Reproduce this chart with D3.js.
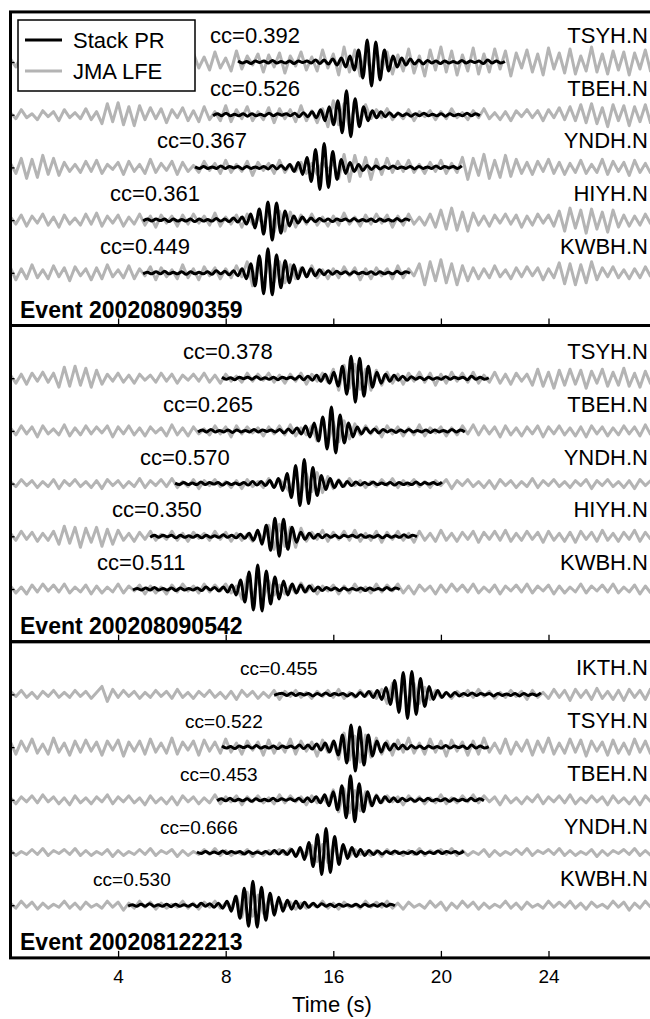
<!DOCTYPE html>
<html>
<head>
<meta charset="utf-8">
<title>Stack PR vs JMA LFE</title>
<style>
    html, body {margin: 0px; padding: 0px; background: #ffffff; overflow: hidden;}
    text {font-family: "Liberation Sans", Arial, Helvetica, sans-serif;}
</style>
</head>
<body>
<div id="chart"></div>
<script src="https://cdn.jsdelivr.net/npm/d3@7"></script>
<script>
// ---- data ----
var events = ["200208090359", "200208090542", "200208122213"];
var stations = [
    ["TSYH.N", "TBEH.N", "YNDH.N", "HIYH.N", "KWBH.N"],
    ["TSYH.N", "TBEH.N", "YNDH.N", "HIYH.N", "KWBH.N"],
    ["IKTH.N", "TSYH.N", "TBEH.N", "YNDH.N", "KWBH.N"]
];
var ccValues = [
    [0.392, 0.526, 0.367, 0.361, 0.449],
    [0.378, 0.265, 0.570, 0.350, 0.511],
    [0.455, 0.522, 0.453, 0.666, 0.530]
];
// start time (s) of the stacked PR window on each trace
var stackStart = [
    [8.46, 7.53, 6.86, 4.93, 4.93],
    [7.86, 6.97, 6.12, 5.19, 4.55],
    [9.80, 7.86, 7.68, 6.93, 4.37]
];
// time (s) where each cc label begins
var ccLabelT = [
    [7.42, 7.42, 5.45, 3.70, 3.33],
    [6.41, 5.67, 4.81, 3.77, 3.22],
    [8.53, 6.49, 6.30, 5.56, 3.07]
];
var tickVals = [4, 8, 12, 16, 20];
var tickLabels = ["4", "8", "16", "20", "24"];

// stacked PR templates, one per station, sampled every stackDt s
var stackDt = 0.16;
var stackPR = {
    "TSYH.N": [1,-1,0.5,-1.5,1,-0.5,1,-1,1.5,-1,0.5,-1,1,-1.5,1,-0.5,1,-1,2,-1.5,2,
        -2,3,-3,4,-5,6,-8, 12,-16,22,-24,20,-18,12,-9,6,
        -5,4,-3,3,-2,2,-2,1.5, -1,1,-1.5,1,-1,0.5,-1,1.5,-1,1,-0.5,1,-1.5,2,-1,1,-1,0.5],
    "TBEH.N": [-1,1,-1,1.5,-1,0.5,-1,1,-1.5,1,-1,0.5,-1,1.5,-1,1,-0.5,1,-1,1.5,-2,2,-2,3,
        -3,5,-6,8,-10,14,-18, 24,-22,16,-12,8,-6,4,
        -3,3,-2,2,-2,1.5,-1,1,-1.5,1,-1,1.5,-1,0.5,-1,1,-1.5,1,-1,0.5,-1,1.5,-1,1,-1],
    "YNDH.N": [0.5,-1,1,-1,0.5,-1,1.5,-1,1,-0.5,1,-1.5,1,-1,0.5,-1,1,-1.5,2,-1.5,2,-2,3,
        -4,5,-7,10,-14,18, -22,24,-20,16,-12,8,-6,
        5,-4,3,-3,2,-2,1.5,-1.5,1,-1,1.5,-1,0.5,-1,1,-1.5,1,-1,0.5,-1,1.5,-1,1,-0.5,1,-1,1.5],
    "HIYH.N": [-1,1,-1,1,-0.5,1,-1.5,1,-1,0.5,-1,1,-1.5,1,-1,0.5,-1,1.5,-1,1,-1.5,2,-2,3,
        -4,6,-8,11,-14,18, -20,17,-13,9,-6,4,
        -3,3,-2,2,-1.5,1.5,-1,1,-1.5,1,-0.5,1,-1,1.5,-1,0.5,-1,1,-1.5,1,-1,0.5,-1,1.5,-1,1,-0.5],
    "KWBH.N": [-1,0.5,-1,1,-1,1.5,-1,0.5,-1,1,-1.5,1,-1,0.5,-1,1,-1.5,2,-1,1.5,-2,2,-3,4,
        -6,9,-13,17,-21, 24,-22,18,-15,12,-10,8,-6,5,
        -4,4,-3,3,-2,2,-1.5,1.5,-1,1,-1.5,1,-1,0.5,-1,1,-1.5,1,-1,0.5,-1,1.5,-1,1,-0.5],
    "IKTH.N": [-1,0.5,1,-1,1.5,-1,1,-0.5,1,-1.5,1,-1,1.5,-1,1,-0.5,1,-1.5,1,-2,2,-2,3,-3,4,
        -5,7,-10,14,-18,22, -24,23,-20,16,-12,8,-5,4,
        -3,2,-2,2,-1.5,1,-1,1.5,-1,1,-0.5,1,-1.5,1,-1,0.5,-1,1,-1.5,1,-1,0.5,-1,1.5]
};

// JMA LFE waveforms, sampled every lfeDt s from t = 0
var lfeDt = 0.2;
var lfe0359 = [
    [3,-5,6,-2,4,-7,5,-3,2,-6,8,-4,3,-5,7,-6,2,-3,5,-8,6,-4,7,-5, 12,-9,14,-11,8,-13,15,-7,10,-12,9,-6,
     5,-8,10,-6,4,-9,11,-7,6,-3,8,-10,7,-5,9,-11,6,-4,10,-8,5,-9,12,-6,8, -13,15,-10,12,-14,9,-11,13,-8,10,-12,7,
     -9,13,-11,6,-14,12,-8,15,-10,11,-13,7,-9,14,-12,8,-10,13,-7,11,-14,9,-6,
     12,-10,8,-13,14,-7,9,-11,13,-12,6,-9,15,-10,8,-12,11,-8,10,-13,9,-7,12,-10],
    [2,-4,5,-3,1,-5,4,-2,3,-6,5,-3,2,-4,6,-5,3, -9,11,-7,12,-10,8,-11,9,
     -5,7,-4,6,-8,5,-3,7,-6,4,-7,8,-5,3,-6,9,-7,5,-4,8,-6,3,-5,7,-8,6,-4,5,-7,9,-6,4,-8,6,
     -12,14,-10,11,-13,9,-8,10,
     -4,5,-3,6,-5,2,-4,5,-6,3,-2,4,-5,3,-4,6,-3,2,-5,4,-3,6,-4,2,-5,3,-6,4,-2,5,-3,4,-6,5,-3,7,-5,8,-6,
     10,-8,11,-9,7,-12,10,-6,9,-11,8,-7,10,-9],
    [4,-6,9,-11,8,-10,12,-7,9,-8,5,-4,
     3,-5,6,-4,7,-6,3,-2,5,-7,6,-4,3,-6,8,-5,4,-3,6,-7,5,-4,2,-5,6,-3,4,-6,7,-5,3,-4,6,-8,5,-3,4,-6,7,-5,3,-4,5,-6,4,-7,6,-3,5,
     -11,13,-14,12,-9,10,-12,8,-7,9,
     -5,6,-4,7,-5,3,-6,5,-4,7,-6,4,-5,
     10,-12,9,-8,13,-11,7,-10,12,-9,8,-6,
     5,-7,6,-4,8,-6,5,-7,4,-5,7,-6,3,-5,8,-7,6,-4,5,-8,7,-5,4,-6],
    [3,-4,5,-6,4,-3,6,-5,3,-7,5,-4,2,-5,6,-4,7,-6,4,-3,5,-6,3,-4,6,-5,4,-7,5,-3,4,-6,5,-4,6,-3,4,-5,7,-6,3,-4,5,-7,6,-4,3,-5,
     10,-12,9,-11,8,-7,
     5,-4,6,-5,3,-6,4,-5,7,-4,3,-6,5,-4,6,-3,5,-7,4,-5,6,-4,3,-5,6,-7,
     10,-9,12,-10,8,-11,7,
     -5,4,-6,5,-3,6,-4,5,-7,4,-5,6,-3,5,-6,
     9,-11,12,-8,10,-13,11,-9,8,-12,10,-7,
     5,-6,4,-5,6,-4],
    [5,-7,4,-6,8,-5,3,-6,7,-4,5,-8,6,-3,4,-7,5,-6,8,-4,3,-5,7,-6,4,-3,6,-7,5,-4,3,-6,8,-5,4,-7,6,-3,5,-6,4,-5,7,-4,
     11,-13,10,-12,14,-9,11,-10,8,
     -6,5,-4,7,-5,3,-6,4,-5,6,-3,5,-7,4,-6,5,-3,4,-6,7,-5,4,-3,
     9,-12,11,-8,13,-10,9,-12,7,-8,
     5,-6,4,-5,7,-4,3,-6,5,-4,6,-3,5,-7,4,-5,
     10,-11,9,-12,8,-10,11,-7,
     5,-4,6,-5,3,-6,4,-5,6,-4]
];
var lfe0542 = [
    [3,-5,4,-6,5,-3,6,-4,5, -9,11,-8,12,-7,10,-9,8,-6,
     4,-3,5,-4,3,-5,4,-2,3,-4,5,-3,4,-5,3,-2,4,-3,5,-4,3,-5,4,-3,2,-4,5,-3,4,-2,5,-4,3,-5,4,-3,5,-6,4,-3,5,-4,
     9,-12,13,-10,14,-11,9,-12,8,-7,6,
     -5,4,-6,5,-3,6,-4,5,-7,4,-5,6,-3,5,-4,6,-5,3,-4,6,-5,4,-6,5,-3,4,
     -7,9,-8,6,-10,8,-7,9,-6,8,-10,7,-5,9,-8,6,-7,10,-8,5,-9,7,-6],
    [3,-4,5,-3,4,-6,5,-3,2,-4,6,-5,3,-4,5,-3,4,-2,5,-6,4,-3,5,-4,3,-5,4,-2,3,-5,6,-4,3,-5,4,-3,2,-4,5,-3,4,-6,5,-3,4,-2,3,-5,4,-3,5,-4,6,-5,3,-4,5,
     -10,12,-13,9,-11,10,-8,7,
     -4,5,-3,4,-6,5,-3,4,-5,3,-4,6,-5,3,-2,4,-5,3,-4,5,-3,6,-4,5,-3,4,-6,5,-4,3,-5,4,-3,5,-6,4,-3,5,-4,3,-5,4,-6,5,-3,4,-5,3,-4,5,-3,4,-5,6,-4],
    [2,-3,4,-2,3,-4,2,-3,4,-5,3,-2,4,-3,2,-4,3,-5,4,-2,3,-4,2,-3,5,-4,3,-2,4,-3,5,-4,2,-3,4,-5,3,-2,4,-3,2,-4,3,-5,4,-3,2,-4,5,-3,4,-2,
     -9,11,-12,10,-8,11,-9,7,-5,
     4,-3,5,-2,3,-4,2,-3,4,-2,5,-4,3,-2,4,-3,2,-4,3,-2,4,-5,3,-2,4,-3,2,-4,3,-5,4,-2,3,-4,2,-3,5,-4,3,-2,4,-3,2,-4,3,-2,4,-5,3,-2,4,-3,2,-4,3,-5,4,-2,3],
    [3,-4,5,-3,4,-5,3,-4,5, -8,10,-7,9,-11,8,-6,9,-10,7,-8,6,
     -4,3,-5,4,-3,5,-4,2,-3,5,-4,3,-5,4,-2,3,-4,5,-3,4,-5,3,-4,2,-5,4,-3,
     11,-13,12,-10,9,-11,8,
     -5,4,-3,6,-5,4,-3,5,-4,6,-5,3,-4,5,-6,4,-3,5,-4,3,-6,5,-4,3,-5,6,-4,3,-5,4,-3,5,-6,4,-3,5,-4,6,-5,3,-4,5,-3,4,-6,5,-4,3,-5,4,-6,5,-3,4,-5,6,-4,3,-5,4,-3,6,-5,4,-3],
    [3,-4,2,-5,4,-3,5,-2,4,-3,5,-4,2,-3,4,-5,3,-4,2,-3,5,-4,3,-2,4,-5,3,-4,2,-5,4,-3,5,-2,3,-4,5,-3,4,-2,5,-4,3,
     -10,12,-11,13,-9,8,-6,
     4,-5,3,-4,6,-3,4,-5,3,-2,4,-5,3,-4,5,-3,2,-4,5,-3,4,-2,5,-4,3,-5,4,-2,3,-5,4,-3,5,-2,4,-3,5,-4,2,-3,4,-5,3,-2,4,-3,5,-4,3,-2,4,-5,3,-4,2,-3,5,-4,3,-2,4,-3,5,-4,2,-3,4,-5,3,-4]
];
var lfe2213 = [
    [3,-2,4,-3,2,-4,3,-2,4,-3,2,-3,4,-2,3,-4,2,8,-7,5,-3,4,-2,3,-4,2,-3,4,-2,3,-4,5,-3,2,-4,3,-2,4,-3,2,-4,3,-5,4,-2,3,-4,2,-3,4,-5,3,-2,4,-3,2,-4,3,-2,4,-3,5,-4,2,-3,4,-2,3,-4,5,
     -9,11,-12,10,-13,11,-9,7,-5,
     4,-3,2,-4,3,-2,4,-3,5,-2,3,-4,2,-3,4,-2,3,-5,4,-3,2,-4,5,-3,4,-6,5,-3,4,-5,6,-4,3,-5,4,-6,5,-3,4,-5,6],
    [5,-7,6,-4,8,-6,3,-7,9,-5,4,-8,6,-5,7,-4,5,-8,6,-3,7,-9,5,-4,6,-7,8,-5,4,-6,9,-7,5,-3,6,-8,7,-4,5,-6,8,-5,4,-7,6,-3,5,-8,7,-6,4,-5,8,-7,6,-4,5,-9,7,-5,6,
     -12,14,-13,11,-15,12,-10,9,-7,
     6,-8,7,-5,9,-6,4,-7,8,-5,6,-9,7,-4,5,-8,6,-7,9,-5,4,-6,8,-7,5,-4,7,-8,6,-5,9,-7,4,-6,8,-5,7,-9,6,-4,5,-8,7,-6,4,-7,8,-5,6,-7],
    [2,-4,3,-2,4,-3,5,-2,3,-4,2,-5,4,-3,2,-4,3,-2,5,-4,3,-2,4,-3,2,-5,4,-3,2,-4,3,-5,4,-2,3,-4,2,-3,5,-4,3,-2,4,-5,3,-2,4,-3,2,-4,5,-3,4,-2,3,-5,4,-3,2,-4,
     10,-12,11,-13,9,-11,8,-6,5,
     -3,4,-2,3,-5,4,-2,3,-4,2,-3,5,-4,2,-3,4,-2,5,-3,4,-2,3,-5,4,-3,2,-4,3,-2,5,-4,3,-2,4,-3,5,-4,2,-3,4,-2,3,-5,4,-3,2,-4,3,-5,4,-2],
    [2,-3,1,-2,3,-2,4,-3,2,-1,3,-2,4,-3,2,-3,1,-2,3,-4,2,-3,1,-2,3,-2,4,-3,2,-1,3,-4,2,-3,1,-2,3,-2,4,-3,2,-3,1,-2,3,-4,2,-3,2,-1,3,-2,4,-3,2,-3,
     7,-9,8,-10,7,-6,5,-4,
     3,-2,1,-3,2,-4,3,-2,1,-3,2,-2,4,-3,2,-1,3,-2,4,-3,2,-3,1,-2,3,-4,2,-3,1,-2,3,-2,4,-3,2,-1,3,-2,4,-3,2,-3,1,-2,3,-4,2,-3,2,-1,3,-2,4,-3,2,-3],
    [2,-3,4,-2,3,-4,2,-3,1,-2,4,-3,2,-4,3,-2,1,-3,4,-2,3,-5,2,-3,4,-2,3,-4,2,-3,1,-2,4,-3,2,-4,3,-2,4,-3,2,-3,
     9,-12,13,-11,10,-8,6,
     -3,4,-2,3,-4,2,-3,1,-2,4,-3,2,-4,3,-2,1,-3,4,-2,3,-2,4,-3,2,-4,3,-2,1,-3,4,-2,3,-5,2,-3,4,-2,3,-4,2,-3,1,-2,4,-3,2,-4,3,-2,1,-3,4,-2,3,-2,4,-3,2,-4,3,-2,1,-3,4,-2,3,-5,2,-3,4,-2]
];
var lfe = [lfe0359, lfe0542, lfe2213];

// ---- chart ----
var width = 650, height = 1019;
var grey = "#b4b4b4";

var x = d3.scaleLinear().domain([0, 24]).range([10.5, 656.1]);
// one row per trace, an empty row between events
var row = d3.scaleLinear().domain([0, 16]).range([62, 905.2]);
var amp = d3.scaleLinear().domain([-25, 25]).range([25, -25]);
var bounds = [row(-0.95), row(5), row(11), row(17)];

var svg = d3.select("#chart").append("svg")
    .attr("width", width)
    .attr("height", height);

svg.append("rect").attr("width", width).attr("height", height).attr("fill", "#ffffff");

svg.append("defs").append("clipPath").attr("id", "plot")
  .append("rect")
    .attr("x", x(0) + 1.5)
    .attr("y", bounds[0])
    .attr("width", 700)
    .attr("height", bounds[3] - bounds[0]);

var grayLine = d3.line();
var stackLine = d3.line().curve(d3.curveCatmullRom.alpha(0.5));

var traces = svg.append("g").attr("clip-path", "url(#plot)");
var grayG = traces.append("g");
var blackG = traces.append("g");
var labels = svg.append("g");

events.forEach(function(ev, p) {
    stations[p].forEach(function(st, i) {
        var base = row(p * 6 + i);

        grayG.append("path")
            .attr("d", grayLine(lfe[p][i].map(function(v, k) { return [x(k * lfeDt), base + amp(v)]; })))
            .attr("fill", "none")
            .attr("stroke", grey)
            .attr("stroke-width", 3)
            .attr("stroke-linejoin", "round");

        blackG.append("path")
            .attr("d", stackLine(stackPR[st].map(function(v, k) { return [x(stackStart[p][i] + k * stackDt), base + amp(v)]; })))
            .attr("fill", "none")
            .attr("stroke", "#000")
            .attr("stroke-width", 3)
            .attr("stroke-linejoin", "round");

        labels.append("text")
            .attr("x", 648)
            .attr("y", base - 19)
            .attr("text-anchor", "end")
            .style("font-size", "22px")
            .text(st);

        labels.append("text")
            .attr("x", x(ccLabelT[p][i]))
            .attr("y", base - 19)
            .style("font-size", p === 2 ? "19px" : "22px")
            .text("cc=" + ccValues[p][i].toFixed(3));
    });

    labels.append("text")
        .attr("x", 20)
        .attr("y", bounds[p + 1] - 8)
        .style("font-size", "23px")
        .style("font-weight", "bold")
        .text("Event " + ev);

    // ticks along the bottom of each panel
    var xAxis = d3.axisBottom(x)
        .tickValues(tickVals)
        .tickSizeInner(-7)
        .tickSizeOuter(0)
        .tickPadding(12)
        .tickFormat(p === 2 ? function(d, k) { return tickLabels[k]; } : "");
    var gx = svg.append("g")
        .attr("transform", "translate(0," + bounds[p + 1] + ")")
        .call(xAxis);
    gx.select(".domain").remove();
    gx.selectAll("line").attr("stroke-width", 1.3);
    gx.selectAll("text").style("font-size", "19px").attr("fill", "#000");

    // ticks on the left at each trace
    var yAxis = d3.axisLeft(row)
        .tickValues(d3.range(5).map(function(i) { return p * 6 + i; }))
        .tickSizeInner(-4)
        .tickSizeOuter(0)
        .tickFormat("");
    var gy = svg.append("g")
        .attr("transform", "translate(" + x(0) + ",0)")
        .call(yAxis);
    gy.select(".domain").remove();
    gy.selectAll("line").attr("stroke-width", 1.3);

    svg.append("rect")
        .attr("x", x(0))
        .attr("y", bounds[p])
        .attr("width", 700)
        .attr("height", bounds[p + 1] - bounds[p])
        .attr("fill", "none")
        .attr("stroke", "#000")
        .attr("stroke-width", 3);
});

svg.append("text")
    .attr("x", 332)
    .attr("y", 1012)
    .attr("text-anchor", "middle")
    .style("font-size", "22px")
    .text("Time (s)");

// legend
var legend = svg.append("g");
legend.append("rect")
    .attr("x", 18).attr("y", 20)
    .attr("width", 177).attr("height", 71)
    .attr("fill", "#fff")
    .attr("stroke", "#000")
    .attr("stroke-width", 1.5);
[["Stack PR", "#000"], ["JMA LFE", grey]].forEach(function(d, i) {
    var yy = 40 + i * 31;
    legend.append("line")
        .attr("x1", 25).attr("x2", 62)
        .attr("y1", yy).attr("y2", yy)
        .attr("stroke", d[1])
        .attr("stroke-width", 3);
    legend.append("text")
        .attr("x", 73).attr("y", yy + 8)
        .style("font-size", "22px")
        .text(d[0]);
});
</script>
</body>
</html>
